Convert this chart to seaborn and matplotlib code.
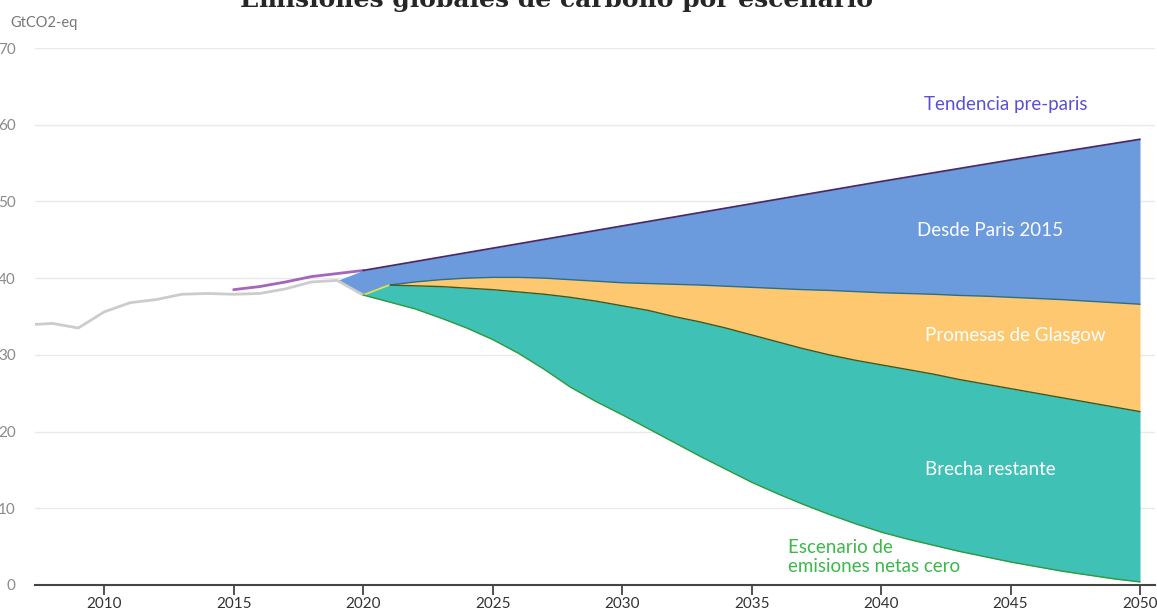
import matplotlib
matplotlib.use("Agg")
import matplotlib.pyplot as plt
import seaborn as sns
import pandas as pd

# historical emissions (grey line)
hist_years = [2007, 2008, 2009, 2010, 2011, 2012, 2013, 2014, 2015, 2016, 2017, 2018, 2019, 2020]
hist_vals = [33.9, 34.1, 33.5, 35.6, 36.8, 37.2, 37.9, 38.0, 37.9, 38.0, 38.6, 39.5, 39.7, 37.8]

# pre-paris trend (purple, then top of blue area)
pre_years = [2015, 2016, 2017, 2018, 2019, 2020, 2025, 2030, 2035, 2040, 2045, 2050]
pre_vals = [38.5, 38.9, 39.5, 40.2, 40.6, 41.0, 43.9, 46.8, 49.7, 52.6, 55.4, 58.1]

# projections 2020-2050
proj_years = list(range(2020, 2051))
politicas = [37.8, 39.1, 39.5, 39.8, 40.0, 40.1, 40.1, 40.0, 39.8, 39.6,
             39.4, 39.3, 39.2, 39.1, 38.95, 38.8, 38.65, 38.5, 38.4, 38.25,
             38.1, 38.0, 37.9, 37.75, 37.65, 37.5, 37.35, 37.2, 37.0, 36.8, 36.6]
promesas = [37.8, 39.1, 39.0, 38.9, 38.7, 38.5, 38.2, 37.9, 37.5, 37.0,
            36.4, 35.8, 35.0, 34.3, 33.5, 32.6, 31.7, 30.8, 30.0, 29.3,
            28.7, 28.1, 27.5, 26.8, 26.2, 25.6, 25.0, 24.4, 23.8, 23.2, 22.6]
netzero = [37.8, 36.9, 36.0, 34.8, 33.5, 32.0, 30.2, 28.1, 25.8, 23.9,
           22.2, 20.4, 18.6, 16.8, 15.1, 13.4, 11.9, 10.5, 9.2, 8.0,
           6.9, 6.0, 5.2, 4.4, 3.7, 3.0, 2.4, 1.8, 1.3, 0.8, 0.4]

df_hist = pd.DataFrame({"year": hist_years, "value": hist_vals})
df_pre = pd.DataFrame({"year": pre_years, "value": pre_vals})
df_proj = pd.DataFrame({"year": proj_years, "politicas": politicas,
                        "promesas": promesas, "netzero": netzero})
df_proj["pre"] = pd.Series(pre_vals, index=pre_years).reindex(proj_years).interpolate().values

sns.set_theme(style="white")
plt.rcParams["font.family"] = ["Lato", "DejaVu Sans"]

fig = plt.figure(figsize=(11.57, 6.10), dpi=100)
ax = fig.add_axes([0.0303, 0.041, 0.968, 0.8803])

blue = "#6b9bdd"
orange = "#fec870"
teal = "#40c1b6"

# blue area: from pre-paris trend down to current policies
blue_x = [2019] + proj_years
blue_top = [39.7] + list(df_proj["pre"])
blue_bot = [39.7] + politicas
ax.fill_between(blue_x, blue_bot, blue_top, color=blue, lw=0, zorder=2)
ax.fill_between(proj_years, promesas, politicas, color=orange, lw=0, zorder=2)
ax.fill_between(proj_years, netzero, promesas, color=teal, lw=0, zorder=2)

sns.lineplot(data=df_hist, x="year", y="value", color="#cccccc", lw=2, ax=ax, zorder=3)
sns.lineplot(data=df_pre[df_pre.year <= 2020], x="year", y="value", color="#a565bd", lw=2, ax=ax, zorder=3)
sns.lineplot(data=df_pre[df_pre.year >= 2020], x="year", y="value", color="#4a2a66", lw=1.3, ax=ax, zorder=4)
sns.lineplot(data=df_proj[df_proj.year >= 2021], x="year", y="politicas", color="#2d6f7e", lw=1, ax=ax, zorder=4)
sns.lineplot(data=df_proj[df_proj.year >= 2021], x="year", y="promesas", color="#3e5a1e", lw=1, ax=ax, zorder=4)
sns.lineplot(data=df_proj.iloc[:2], x="year", y="promesas", color="#e2e24a", lw=1.2, ax=ax, zorder=4)
sns.lineplot(data=df_proj, x="year", y="netzero", color="#2e9a3c", lw=1, ax=ax, zorder=4)

ax.set_xlim(2007.33, 2050.58)
ax.set_ylim(0, 70)
ax.set_xticks([2010, 2015, 2020, 2025, 2030, 2035, 2040, 2045, 2050])
ax.set_yticks(range(0, 71, 10))
ax.set_xlabel("")
ax.set_ylabel("")
ax.yaxis.grid(True, color="#e9e9e9", lw=1)
ax.set_axisbelow(True)
for s in ["left", "right", "top"]:
    ax.spines[s].set_visible(False)
ax.spines["bottom"].set_color("#444444")
ax.spines["bottom"].set_linewidth(1.5)
ax.spines["bottom"].set_zorder(5)
ax.tick_params(axis="x", bottom=True, length=7, width=1.3, color="#444444",
               labelsize=11, labelcolor="#333333", pad=2)
ax.tick_params(axis="y", left=False, labelsize=11, labelcolor="#8a8a8a", pad=8)

# annotations
ax.text(2044.8, 62.6, "Tendencia pre-paris", color="#5a4fd6", fontsize=13.5, ha="center", va="center")
ax.text(2044.2, 46.2, "Desde Paris 2015", color="white", fontsize=13.5, ha="center", va="center", zorder=6)
ax.text(2045.2, 32.5, "Promesas de Glasgow", color="white", fontsize=13.5, ha="center", va="center", zorder=6)
ax.text(2044.2, 15.0, "Brecha restante", color="white", fontsize=13.5, ha="center", va="center", zorder=6)
ax.text(2036.4, 3.7, "Escenario de\nemisiones netas cero", color="#3cb84a", fontsize=13.5,
        ha="left", va="center", linespacing=1.15, zorder=6)

fig.text(0.009, 0.963, "GtCO2-eq", color="#777777", fontsize=10.5, ha="left", va="center")
fig.text(0.481, 1.0, "Emisiones globales de carbono por escenario", fontsize=18,
         fontweight="bold", family="DejaVu Serif", ha="center", va="center")

fig.savefig("out.png", dpi=100)
